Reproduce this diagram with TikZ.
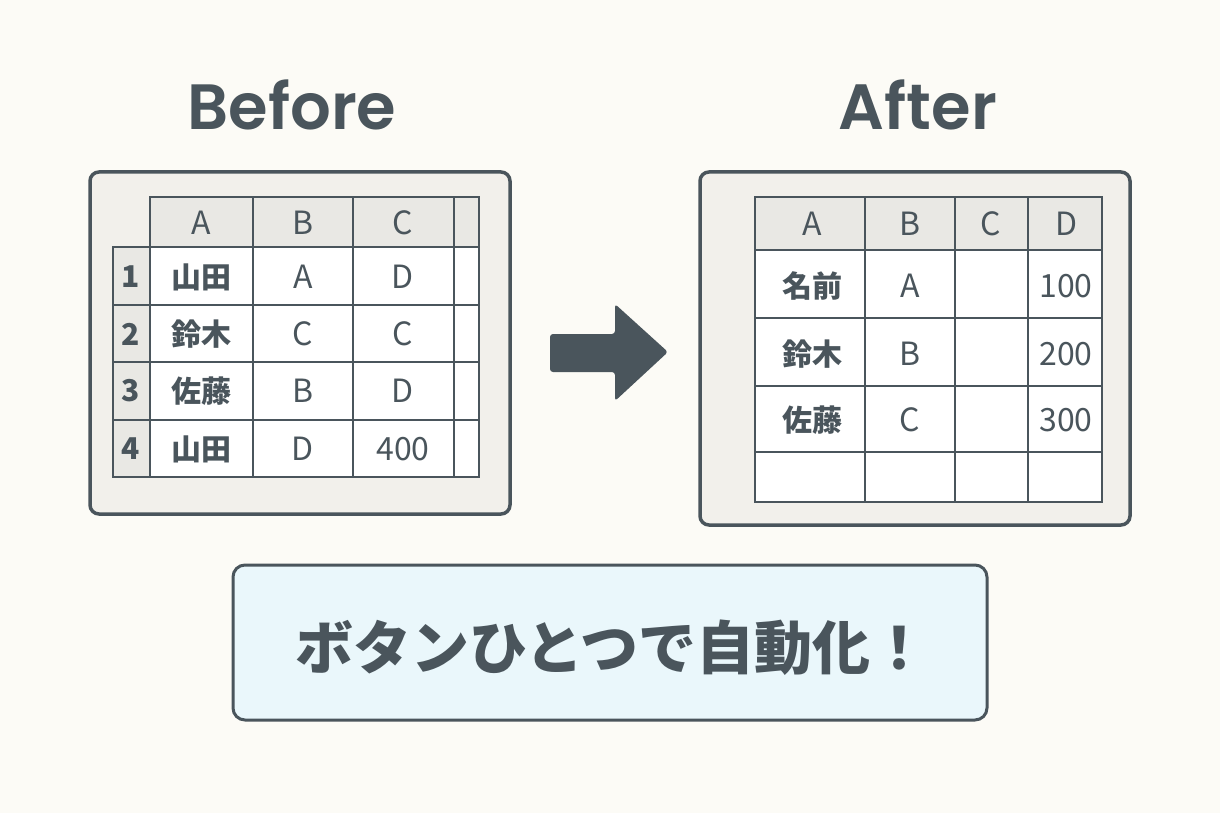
\documentclass[tikz,border=0pt]{standalone}
\usepackage{fontspec}
\setmainfont{Noto Sans CJK JP}
\newfontfamily\ttl{Poppins}[UprightFont=* SemiBold]
\begin{document}
\definecolor{ink}{HTML}{4A555C}
\definecolor{bg}{HTML}{FCFBF6}
\definecolor{frame}{HTML}{F2F0EB}
\definecolor{hdr}{HTML}{E9E8E4}
\definecolor{btn}{HTML}{EAF7FB}
\begin{tikzpicture}[x=1pt,y=-1pt,
  frm/.style={draw=ink,line width=3.5pt,rounded corners=9pt,fill=frame},
  grid/.style={draw=ink,line width=2.2pt},
  t/.style={text=ink,font=\fontsize{32}{32}\selectfont},
  tb/.style={text=ink,font=\fontsize{30}{30}\selectfont\bfseries}]
\fill[bg] (0,0) rectangle (1220,813);
\useasboundingbox (0,0) rectangle (1220,813);
\node[text=ink,font=\ttl\fontsize{64}{64}\selectfont] (tb4) at (292,105) {Before};
\node[text=ink,font=\ttl\fontsize{64}{64}\selectfont] (ta4) at (918,105) {After};
% Before
\draw[frm] (90,172) rectangle (510,514);
\fill[white] (150,247) rectangle (479,477);
\fill[hdr] (150,197) rectangle (479,247);
\fill[hdr] (113,247) rectangle (150,477);
\draw[grid] (150,197) rectangle (479,477);
\draw[grid] (113,247) rectangle (150,477);
\foreach \x in {253,353,454} \draw[grid] (\x,197) -- (\x,477);
\foreach \y in {247,305,362,420} \draw[grid] (113,\y) -- (479,\y);
\node[t] (bA) at (201,223) {A};
\node[t] (bB) at (303,223) {B};
\node[t] (bC) at (403,223) {C};
\node[tb] (b1) at (131,277) {1};
\node[tb] (b2) at (131,334) {2};
\node[tb] (b3) at (131,391) {3};
\node[tb] (b4) at (131,449) {4};
\node[tb] (b11) at (201,277) {山田};
\node[tb] (b21) at (201,334) {鈴木};
\node[tb] (b31) at (201,391) {佐藤};
\node[tb] (b41) at (201,449) {山田};
\node[t] (b12) at (303,277) {A};
\node[t] (b22) at (303,334) {C};
\node[t] (b32) at (303,391) {B};
\node[t] (b42) at (303,449) {D};
\node[t] (b13) at (403,277) {D};
\node[t] (b23) at (403,334) {C};
\node[t] (b33) at (403,391) {D};
\node[t] (b43) at (403,449) {400};
% arrow
\fill[ink,rounded corners=3pt] (550,334) -- (615,334) -- (615,304) -- (668,352) -- (615,401) -- (615,372) -- (550,372) -- cycle;
% After
\draw[frm] (700,172) rectangle (1130,525);
\fill[white] (755,250) rectangle (1102,502);
\fill[hdr] (755,197) rectangle (1102,250);
\draw[grid] (755,197) rectangle (1102,502);
\foreach \x in {865,955,1028} \draw[grid] (\x,197) -- (\x,502);
\foreach \y in {250,318,386,452} \draw[grid] (755,\y) -- (1102,\y);
\node[t] (aA) at (812,224) {A};
\node[t] (aB) at (910,224) {B};
\node[t] (aC) at (991,224) {C};
\node[t] (aD) at (1066,224) {D};
\node[tb] (a11) at (812,286) {名前};
\node[tb] (a21) at (812,354) {鈴木};
\node[tb] (a31) at (812,420) {佐藤};
\node[t] (a12) at (910,286) {A};
\node[t] (a22) at (910,354) {B};
\node[t] (a32) at (910,420) {C};
\node[t] (a14) at (1066,286) {100};
\node[t] (a24) at (1066,354) {200};
\node[t] (a34) at (1066,420) {300};
% button
\draw[draw=ink,line width=3pt,rounded corners=12pt,fill=btn] (233,565) rectangle (987,720);
\node[text=ink,font=\fontsize{58}{58}\selectfont\bfseries] (btxt) at (612,648) {ボタンひとつで自動化！};
\end{tikzpicture}
\end{document}
